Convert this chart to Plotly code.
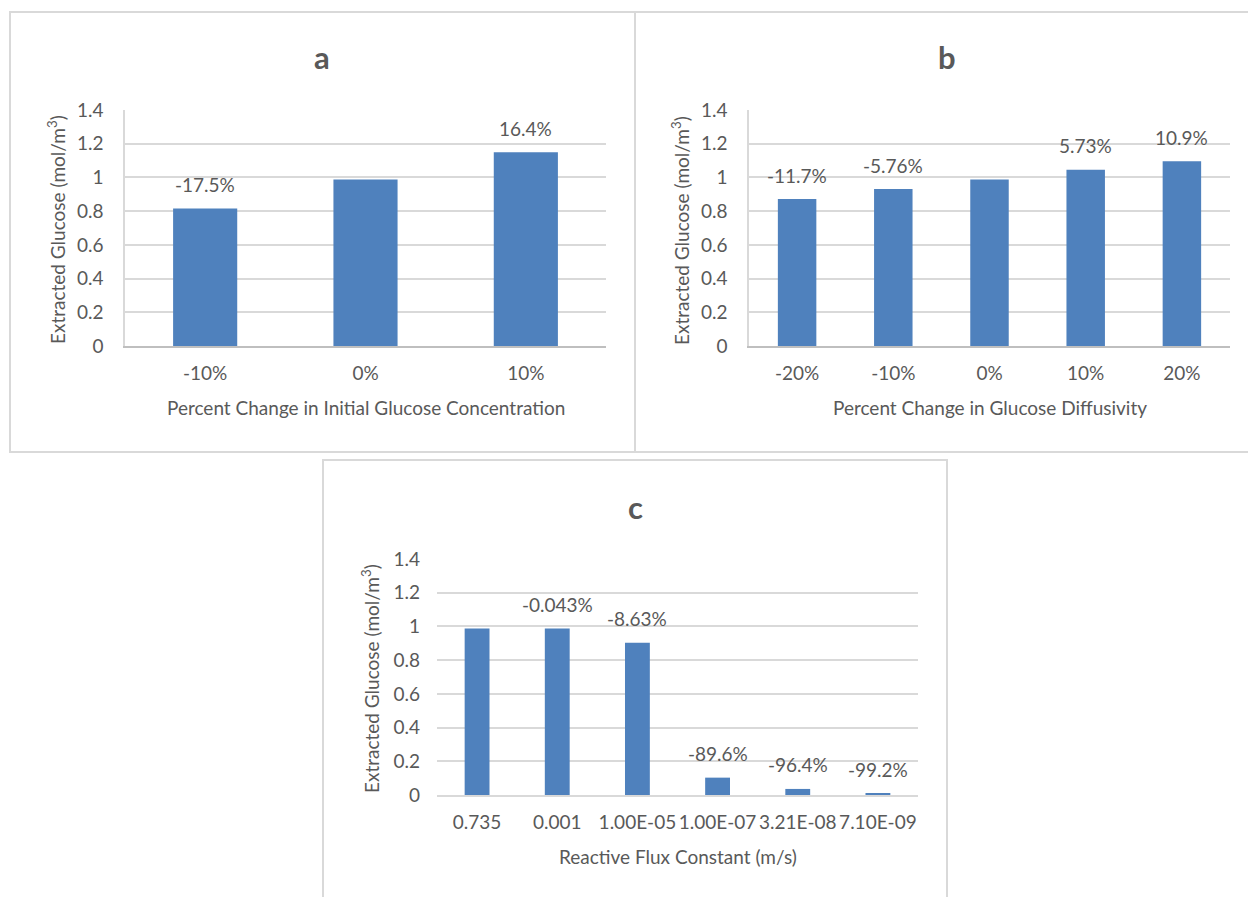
import plotly.graph_objects as go

# Panel a: initial glucose concentration sweep
conc_labels = ["-10%", "0%", "10%"]
conc_values = [0.815, 0.988, 1.150]
conc_pct = ["-17.5%", None, "16.4%"]

# Panel b: glucose diffusivity sweep
diff_labels = ["-20%", "-10%", "0%", "10%", "20%"]
diff_values = [0.872, 0.931, 0.988, 1.045, 1.096]
diff_pct = ["-11.7%", "-5.76%", None, "5.73%", "10.9%"]

# Panel c: reactive flux constant sweep
flux_labels = ["0.735", "0.001", "1.00E-05", "1.00E-07", "3.21E-08", "7.10E-09"]
flux_values = [0.988, 0.9876, 0.903, 0.103, 0.036, 0.008]
flux_pct = [None, "-0.043%", "-8.63%", "-89.6%", "-96.4%", "-99.2%"]

W, H = 1248, 897
FONT = "Lato"
FS = 19
TXT = "#595959"
BAR = "#4F81BD"
GRID = "#D9D9D9"


def px(x):
    return x / W


def py(y):
    return 1 - y / H


fig = go.Figure()

panels = [
    dict(cats=conc_labels, vals=conc_values, pct=conc_pct, title="a",
         xtitle="Percent Change in Initial Glucose Concentration",
         plot=(125, 606, 110, 346), width=0.4, yline=True,
         box=(10, 635, 12, 452), ytitle_x=57, title_xy=(322, 57)),
    dict(cats=diff_labels, vals=diff_values, pct=diff_pct, title="b",
         xtitle="Percent Change in Glucose Diffusivity",
         plot=(749, 1230, 110, 346), width=0.4, yline=True,
         box=(635, 1260, 12, 452), ytitle_x=681, title_xy=(947, 57)),
    dict(cats=flux_labels, vals=flux_values, pct=flux_pct, title="c",
         xtitle="Reactive Flux Constant (m/s)",
         plot=(437, 918, 559, 795), width=0.31, yline=False,
         box=(323, 947, 460, 910), ytitle_x=370, title_xy=(635, 507)),
]

annotations = []
shapes = []
layout_axes = {}

for i, p in enumerate(panels, start=1):
    xa = "x" if i == 1 else f"x{i}"
    ya = "y" if i == 1 else f"y{i}"
    x0, x1, ytop, ybot = p["plot"]

    fig.add_trace(go.Bar(
        x=p["cats"], y=p["vals"], xaxis=xa, yaxis=ya,
        width=p["width"], marker=dict(color=BAR, line=dict(width=0)),
        hoverinfo="x+y", showlegend=False,
    ))

    layout_axes["xaxis" if i == 1 else f"xaxis{i}"] = dict(
        domain=[px(x0), px(x1)], anchor=ya, type="category",
        showgrid=False, zeroline=False, showline=True,
        linecolor="#BFBFBF" if p["yline"] else GRID,
        linewidth=2 if p["yline"] else 1.5,
        ticks="", tickfont=dict(family=FONT, size=FS, color=TXT),
        ticklabelstandoff=9, automargin=False, fixedrange=True,
    )
    layout_axes["yaxis" if i == 1 else f"yaxis{i}"] = dict(
        domain=[py(ybot), py(ytop)], anchor=xa, range=[0, 1.4],
        dtick=0.2, tick0=0, showgrid=True, gridcolor=GRID, gridwidth=1.5,
        zeroline=False, showline=p["yline"], linecolor=GRID, linewidth=1.5,
        ticks="", tickfont=dict(family=FONT, size=FS, color=TXT),
        ticklabelstandoff=16, automargin=False, fixedrange=True,
    )

    # percentage labels above bars (positioned by category index)
    for j, (v, t) in enumerate(zip(p["vals"], p["pct"])):
        if t is None:
            continue
        annotations.append(dict(
            x=j, y=v, xref=xa, yref=ya, text=t, showarrow=False,
            yanchor="middle", yshift=24,
            font=dict(family=FONT, size=FS, color=TXT),
        ))

    # panel title
    tx, ty = p["title_xy"]
    annotations.append(dict(
        x=px(tx), y=py(ty), xref="paper", yref="paper", text=f"<b>{p['title']}</b>",
        showarrow=False, xanchor="center", yanchor="middle",
        font=dict(family=FONT, size=31, color=TXT),
    ))
    # x-axis title
    annotations.append(dict(
        x=px((x0 + x1) / 2), y=py(ybot + 61), xref="paper", yref="paper",
        text=p["xtitle"], showarrow=False, xanchor="center", yanchor="middle",
        font=dict(family=FONT, size=FS, color=TXT),
    ))
    # y-axis title
    annotations.append(dict(
        x=px(p["ytitle_x"]), y=py((ytop + ybot) / 2 + 2), xref="paper", yref="paper",
        text="Extracted Glucose (mol/m<sup>3</sup>)", textangle=-90,
        showarrow=False, xanchor="center", yanchor="middle",
        font=dict(family=FONT, size=FS, color=TXT),
    ))

    bx0, bx1, by0, by1 = p["box"]
    shapes.append(dict(
        type="rect", xref="paper", yref="paper",
        x0=px(bx0), x1=px(bx1), y0=py(by1), y1=py(by0),
        line=dict(color=GRID, width=2), fillcolor="rgba(0,0,0,0)", layer="below",
    ))

fig.update_layout(
    width=W, height=H, autosize=False,
    margin=dict(l=0, r=0, t=0, b=0, pad=0, autoexpand=False),
    paper_bgcolor="white", plot_bgcolor="white",
    annotations=annotations, shapes=shapes,
    bargap=0.6,
    **layout_axes,
)

fig.write_html("out.html", config={"displayModeBar": False})
